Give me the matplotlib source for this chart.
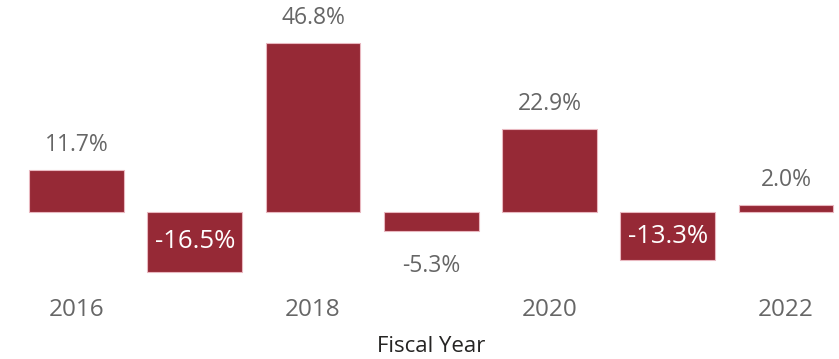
import matplotlib
matplotlib.use("Agg")
import matplotlib.pyplot as plt

years = [2016, 2017, 2018, 2019, 2020, 2021, 2022]
growth = [11.7, -16.5, 46.8, -5.3, 22.9, -13.3, 2.0]
tick_years = [2016, 2018, 2020, 2022]
inside_label = [False, True, False, False, False, True, False]

plt.rcParams['font.family'] = ['Open Sans', 'DejaVu Sans']

W, H = 839, 359
fig = plt.figure(figsize=(W / 100, H / 100), dpi=100)
ax_bottom_px = 290
ax = fig.add_axes([0, 1 - ax_bottom_px / H, 1, ax_bottom_px / H])

bar_color = '#962936'
pos = list(range(len(years)))
ax.bar(pos, growth, width=0.8, color=bar_color, edgecolor='#e9b8c0', linewidth=0.8)

px_per_unit = (212 - 43) / 46.8
ax.set_ylim(-(ax_bottom_px - 212) / px_per_unit, 212 / px_per_unit)
ax.set_xlim(-76.5 / 118.25, (W - 76.5) / 118.25)

for p, v, inside in zip(pos, growth, inside_label):
    txt = f"{v:.1f}%"
    if inside:
        ax.text(p, v / 2, txt, ha='center', va='center', color='white', fontsize=18.5)
    elif v >= 0:
        ax.annotate(txt, (p, v), xytext=(0, 9.5), textcoords='offset points',
                    ha='center', va='bottom', color='#666666', fontsize=16.5)
    else:
        ax.annotate(txt, (p, v), xytext=(0, -16.5), textcoords='offset points',
                    ha='center', va='top', color='#666666', fontsize=16.5)

ax.set_xticks([years.index(y) for y in tick_years])
ax.set_xticklabels([str(y) for y in tick_years], fontsize=17.5, color='#666666')
ax.tick_params(axis='x', length=0, pad=6)
ax.set_yticks([])
for s in ax.spines.values():
    s.set_visible(False)

fig.text(431 / W, 1 - 347 / H, 'Fiscal Year', ha='center', va='center',
         fontsize=16, color='#252423')

fig.savefig('out.png', dpi=100)
